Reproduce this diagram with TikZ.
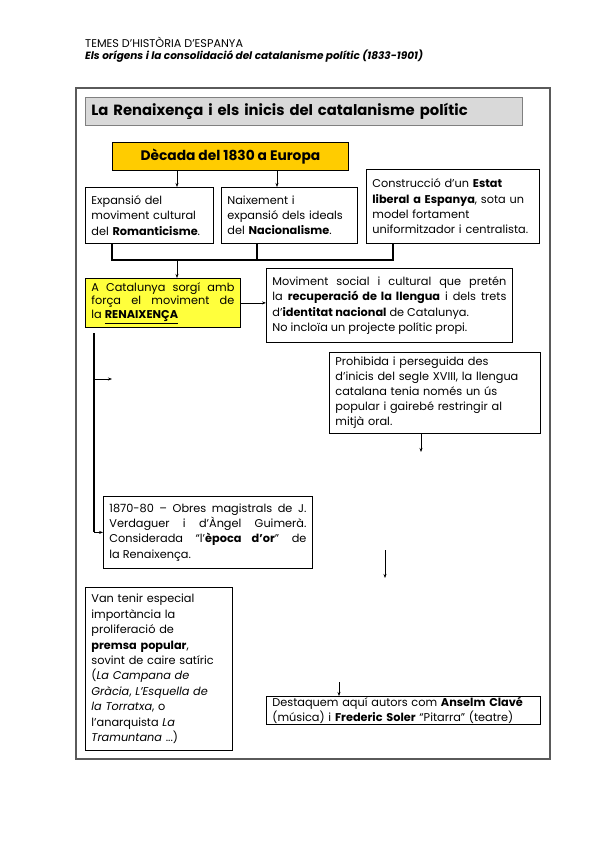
\documentclass[tikz,border=0pt]{standalone}
\usepackage{fontspec}
\setmainfont{Poppins}
\usetikzlibrary{arrows.meta}
\definecolor{gold}{RGB}{255,204,0}
\definecolor{lemon}{RGB}{255,255,60}
\definecolor{titlegray}{RGB}{217,217,217}
\definecolor{framegray}{RGB}{90,90,90}
\tikzset{
  box/.style={draw=black, line width=0.8pt, anchor=north west, inner xsep=6pt, inner ysep=2pt,
    align=left, font=\fontsize{11.3}{15.3}\selectfont},
  jbox/.style={box, align=justify},
  arr/.style={-{Stealth[length=4pt,width=3pt]}, line width=0.6pt},
  brk/.style={line width=1.3pt},
}
\begin{document}
\begin{tikzpicture}[x=1pt,y=-1pt]
\useasboundingbox (0,0) rectangle (600,848);
\fill[white] (0,0) rectangle (600,848);
% header
\node[anchor=west, inner sep=0, font=\fontsize{11.2}{12}\selectfont] (h1) at (85,42) {TEMES D’HISTÒRIA D’ESPANYA};
\node[anchor=west, inner sep=0, font=\fontsize{10.5}{12}\selectfont\bfseries\itshape] (h2) at (85,56) {Els orígens i la consolidació del catalanisme polític (1833-1901)};
% frame
\draw[framegray, line width=1.5pt] (76,88) rectangle (550,759);
% title
\node[anchor=north west, draw=gray, line width=0.8pt, fill=titlegray, minimum width=437, minimum height=28, text width=425, inner xsep=6pt, align=left, font=\fontsize{14.8}{16}\selectfont\bfseries] (title) at (85,97) {La Renaixença i els inicis del catalanisme polític};
% decade
\node[anchor=north west, draw=black, line width=0.8pt, fill=gold, minimum width=236, minimum height=28, align=center, font=\fontsize{13.8}{15}\selectfont\bfseries] (dec) at (112,142) {Dècada del 1830 a Europa};
% row of three
\node[box, text width=116, minimum height=56] (rom) at (85,187) {Expansió del\\moviment cultural\\del \textbf{Romanticisme}.};
\node[box, text width=124, minimum height=56] (nac) at (221,187) {Naixement i\\expansió dels ideals\\del \textbf{Nacionalisme}.};
\node[box, text width=161, minimum height=74] (est) at (366,169) {Construcció d’un \textbf{Estat}\\\textbf{liberal a Espanya}, sota un\\model fortament\\uniformitzador i centralista.};
% Renaixença
\node[jbox, fill=lemon, text width=143, minimum height=49, font=\fontsize{11.3}{13.5}\selectfont] (ren) at (85,278) {A Catalunya sorgí amb\linebreak força el moviment de\linebreak la \underline{\textbf{RENAIXENÇA}}};
\node[jbox, text width=234, minimum height=74] (mov) at (266,268) {Moviment social i cultural que pretén\linebreak la \textbf{recuperació de la llengua} i dels trets\linebreak d’\textbf{identitat nacional} de Catalunya.\\No incloïa un projecte polític propi.};
\node[box, text width=199, minimum height=81, font=\fontsize{11.3}{15}\selectfont] (proh) at (329,352) {Prohibida i perseguida des\\d’inicis del segle XVIII, la llengua\\catalana tenia només un ús\\popular i gairebé restringir al\\mitjà oral.};
\node[jbox, text width=197, minimum height=72] (epoca) at (103,496) {1870-80 – Obres magistrals de J.\linebreak Verdaguer i d’Àngel Guimerà.\linebreak Considerada “l’\textbf{època d’or}” de\linebreak la Renaixença.};
\node[box, text width=135, minimum height=163, font=\fontsize{11.3}{15.4}\selectfont] (premsa) at (85,587) {Van tenir especial\\importància la\\proliferació de\\\textbf{premsa popular},\\sovint de caire satíric\\(\textit{La Campana de}\\\textit{Gràcia}, \textit{L’Esquella de}\\\textit{la Torratxa}, o\\l’anarquista \textit{La}\\\textit{Tramuntana} ...)\\[6pt]};
\node[box, text width=262, minimum height=27, inner ysep=1pt, font=\fontsize{11.3}{12.5}\selectfont] (dest) at (266,696) {Destaquem aquí autors com \textbf{Anselm Clavé}\\(música) i \textbf{Frederic Soler} “Pitarra” (teatre)};
% connectors
\coordinate (a1) at (177,170);
\coordinate (a2) at (277,170);
\draw[arr] (a1) -- (a1 |- rom.north);
\draw[arr] (a2) -- (a2 |- nac.north);
\coordinate (b1) at (112,260);
\coordinate (b2) at (257,260);
\coordinate (b3) at (393,260);
\coordinate (bm) at (177,260);
\draw[brk] (b1 |- rom.south) -- (b1) -- (b3) -- (b3 |- est.south);
\draw[brk] (b2 |- nac.south) -- (b2);
\draw[arr] (bm) -- (bm |- ren.north);
\draw[arr] (ren.east) -- (ren.east -| mov.west);
\coordinate (p1) at (421,452);
\draw[arr] (p1 |- proh.south) -- (p1);
\coordinate (l1) at (94,333);
\coordinate (l2) at (112,379);
\draw[line width=1.8pt] (l1) -- (l1 |- epoca.west);
\draw[arr] (l1 |- epoca.west) -- (epoca.west);
\draw[arr] (l1 |- l2) -- (l2);
\coordinate (f1) at (385,550);
\coordinate (f2) at (385,578);
\draw[arr] (f1) -- (f2);
\coordinate (d1) at (339,682);
\draw[arr] (d1) -- (d1 |- dest.north);
\end{tikzpicture}
\end{document}
